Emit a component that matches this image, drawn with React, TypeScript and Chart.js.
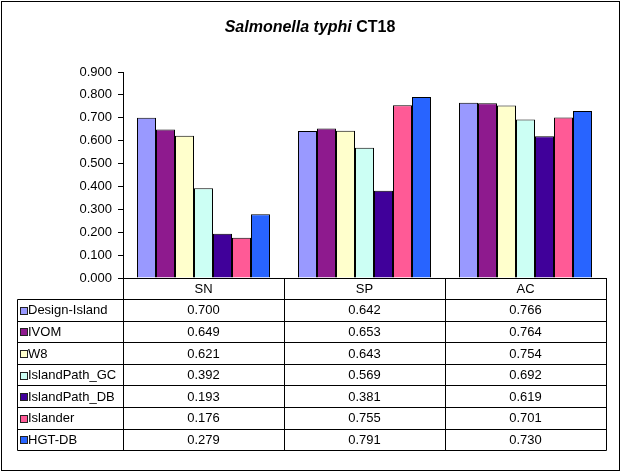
import React, { useEffect, useRef } from "react";
import { Chart, registerables } from "chart.js";

Chart.register(...registerables);

const categories = ["SN", "SP", "AC"];
const seriesNames = ["Design-Island", "IVOM", "W8", "IslandPath_GC", "IslandPath_DB", "Islander", "HGT-DB"];
const designIsland = [0.7, 0.642, 0.766];
const ivom = [0.649, 0.653, 0.764];
const w8 = [0.621, 0.643, 0.754];
const islandPathGC = [0.392, 0.569, 0.692];
const islandPathDB = [0.193, 0.381, 0.619];
const islander = [0.176, 0.755, 0.701];
const hgtDB = [0.279, 0.791, 0.73];
const seriesValues = [designIsland, ivom, w8, islandPathGC, islandPathDB, islander, hgtDB];
const seriesColors = ["#9999FF", "#8E1A8E", "#FFFFCC", "#CCFFF4", "#40009A", "#FF5A96", "#2864FF"];
const yTicks = [0, 0.1, 0.2, 0.3, 0.4, 0.5, 0.6, 0.7, 0.8, 0.9];

const FONT = "'Liberation Sans', Arial, sans-serif";

const tablePlugin = {
  id: "excelTable",
  afterDraw(chart: any) {
    const ctx = chart.ctx;
    const area = chart.chartArea;
    const xs = chart.scales.x;
    const W = chart.width;
    const H = chart.height;
    ctx.save();
    // outer border
    ctx.strokeStyle = "#000";
    ctx.lineWidth = 1;
    ctx.strokeRect(1.5, 1.5, W - 3, H - 3);

    // title
    ctx.fillStyle = "#000";
    ctx.textBaseline = "alphabetic";
    const italicFont = `italic bold 16px ${FONT}`;
    const boldFont = `bold 16px ${FONT}`;
    const part1 = "Salmonella typhi";
    const part2 = " CT18";
    ctx.font = italicFont;
    const w1 = ctx.measureText(part1).width;
    ctx.font = boldFont;
    const w2 = ctx.measureText(part2).width;
    const tx = 310 - (w1 + w2) / 2;
    ctx.font = italicFont;
    ctx.textAlign = "left";
    ctx.fillText(part1, tx, 32);
    ctx.font = boldFont;
    ctx.fillText(part2, tx + w1, 32);

    // table
    const n = categories.length;
    const step = (area.right - area.left) / n;
    const top = area.bottom;
    const headerH = 21;
    const rowH = 21.6;
    const rowsTop = top + headerH;
    const bottom = rowsTop + rowH * seriesNames.length;
    const legendLeft = 17;
    const px = (v: number) => Math.round(v) + 0.5;

    ctx.strokeStyle = "#000";
    ctx.lineWidth = 1;
    ctx.beginPath();
    for (let i = 0; i <= n; i++) {
      const x = px(area.left + step * i);
      ctx.moveTo(x, top);
      ctx.lineTo(x, px(bottom));
    }
    ctx.moveTo(px(legendLeft), px(rowsTop));
    ctx.lineTo(px(legendLeft), px(bottom));
    for (let r = 0; r <= seriesNames.length; r++) {
      const y = px(rowsTop + rowH * r);
      ctx.moveTo(px(legendLeft), y);
      ctx.lineTo(px(area.right), y);
    }
    ctx.stroke();

    ctx.font = `13px ${FONT}`;
    ctx.textBaseline = "middle";
    ctx.textAlign = "center";
    ctx.fillStyle = "#000";
    categories.forEach((c, i) => {
      const cx = xs.getPixelForValue(i);
      ctx.fillText(c, cx, top + headerH / 2 + 1);
    });
    seriesNames.forEach((name, r) => {
      const cy = rowsTop + rowH * r + rowH / 2 + 1;
      const sx = 20;
      const sy = Math.round(cy - 4);
      ctx.fillStyle = seriesColors[r];
      ctx.fillRect(sx, sy, 7, 7);
      ctx.strokeStyle = "#222";
      ctx.strokeRect(sx + 0.5, sy + 0.5, 7, 7);
      ctx.fillStyle = "#000";
      ctx.textAlign = "left";
      ctx.fillText(name, 28, cy);
      ctx.textAlign = "center";
      seriesValues[r].forEach((v, i) => {
        ctx.fillText(v.toFixed(3), xs.getPixelForValue(i), cy);
      });
    });
    ctx.restore();
  },
};

export default function App() {
  const ref = useRef<HTMLCanvasElement | null>(null);
  useEffect(() => {
    document.body.style.margin = "0";
    const canvas = ref.current;
    if (!canvas) return;
    const chart = new Chart(canvas, {
      type: "bar",
      data: {
        labels: categories,
        datasets: seriesNames.map((name, i) => ({
          label: name,
          data: seriesValues[i],
          backgroundColor: seriesColors[i],
          borderColor: "#000",
          borderWidth: 1,
          categoryPercentage: 0.826,
          barPercentage: 1,
        })),
      },
      options: {
        responsive: false,
        animation: false,
        devicePixelRatio: 1,
        layout: { padding: { top: 72, right: 15, left: 0, bottom: 0 } },
        plugins: {
          legend: { display: false },
          title: { display: false },
          tooltip: { enabled: false },
        },
        scales: {
          x: {
            grid: { display: false },
            ticks: { display: false },
            border: { display: true, color: "#000", width: 1 },
            afterFit: (s: any) => {
              s.height = 194;
            },
          },
          y: {
            min: 0,
            max: 0.9,
            afterBuildTicks: (s: any) => {
              s.ticks = yTicks.map((v) => ({ value: v }));
            },
            ticks: {
              color: "#000",
              font: { family: FONT, size: 13 },
              padding: 6,
              callback: (v: any) => Number(v).toFixed(3),
            },
            grid: {
              display: true,
              drawOnChartArea: false,
              drawTicks: true,
              tickLength: 5,
              color: "#000",
            },
            border: { display: true, color: "#000", width: 1 },
            afterFit: (s: any) => {
              s.width = 123;
            },
          },
        },
      },
      plugins: [tablePlugin],
    });
    return () => chart.destroy();
  }, []);
  return (
    <div style={{ position: "absolute", left: 0, top: 0, width: 621, height: 472, background: "#fff" }}>
      <canvas ref={ref} width={621} height={472} style={{ width: 621, height: 472, display: "block" }} />
    </div>
  );
}
